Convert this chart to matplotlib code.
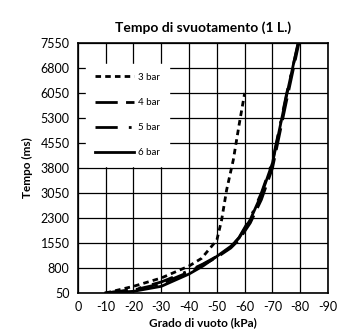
import numpy as np
import matplotlib.pyplot as plt

plt.rcParams['font.family'] = ['Lato', 'DejaVu Sans']

# curve data (kPa, ms)
x_3bar = [-10, -20, -30, -40, -44.5, -47.5, -50, -51.7, -53.5, -55.9, -58, -60]
y_3bar = [50, 250, 500, 860, 1090, 1390, 1640, 2240, 3140, 4040, 5100, 6050]

x_4bar = [-10, -20, -30, -40, -45, -50, -55, -58, -62, -66, -70, -75, -79.5]
y_4bar = [50, 140, 330, 680, 900, 1120, 1400, 1650, 2150, 2850, 3800, 5800, 7550]

x_5bar = [-10, -20, -30, -40, -45, -50, -55, -58, -62, -66, -70, -75, -79.3]
y_5bar = [50, 150, 380, 720, 920, 1150, 1420, 1720, 2300, 3050, 4000, 6000, 7550]

x_6bar = [-10, -20, -30, -40, -45, -50, -55, -58, -62, -66, -70, -75, -79.2]
y_6bar = [50, 100, 250, 620, 860, 1150, 1450, 1700, 2250, 3000, 3950, 5950, 7550]

x_ticks = [0, -10, -20, -30, -40, -50, -60, -70, -80, -90]
y_ticks = [50, 800, 1550, 2300, 3050, 3800, 4550, 5300, 6050, 6800, 7550]

fig = plt.figure(figsize=(3.4, 3.36), dpi=100)
ax = fig.add_axes([0.229, 0.128, 0.736, 0.744])

ax.plot(x_3bar, y_3bar, color='black', lw=2, dashes=(2, 1.5), label='3 bar')
ax.plot(x_4bar, y_4bar, color='black', lw=2, dashes=(8, 3), label='4 bar')
ax.plot(x_5bar, y_5bar, color='black', lw=2, dashes=(8, 4, 1, 4), label='5 bar')
ax.plot(x_6bar, y_6bar, color='black', lw=2, label='6 bar')

ax.set_xlim(0, -90)
ax.set_ylim(50, 7550)
ax.set_xticks(x_ticks)
ax.set_yticks(y_ticks)
ax.set_xticklabels([str(v) for v in x_ticks])
ax.tick_params(labelsize=9, length=0, pad=6)
ax.grid(True, color='black', lw=0.9)
ax.set_axisbelow(True)
for s in ax.spines.values():
    s.set_linewidth(1.2)

ax.set_title('Tempo di svuotamento (1 L.)', fontsize=10, fontweight='bold', pad=8)
ax.set_xlabel('Grado di vuoto (kPa)', fontsize=8.5, fontweight='bold', labelpad=3)
ax.set_ylabel('Tempo (ms)', fontsize=8.5, fontweight='bold', labelpad=5)

leg = ax.legend(loc='upper left', bbox_to_anchor=(0.015, 0.935), frameon=True,
                fontsize=7, handlelength=4.0, labelspacing=1.65,
                borderpad=0.9, handletextpad=0.4)
leg.get_frame().set_edgecolor('white')
leg.get_frame().set_facecolor('white')
leg.get_frame().set_alpha(1)

fig.savefig('out.png', dpi=100)
